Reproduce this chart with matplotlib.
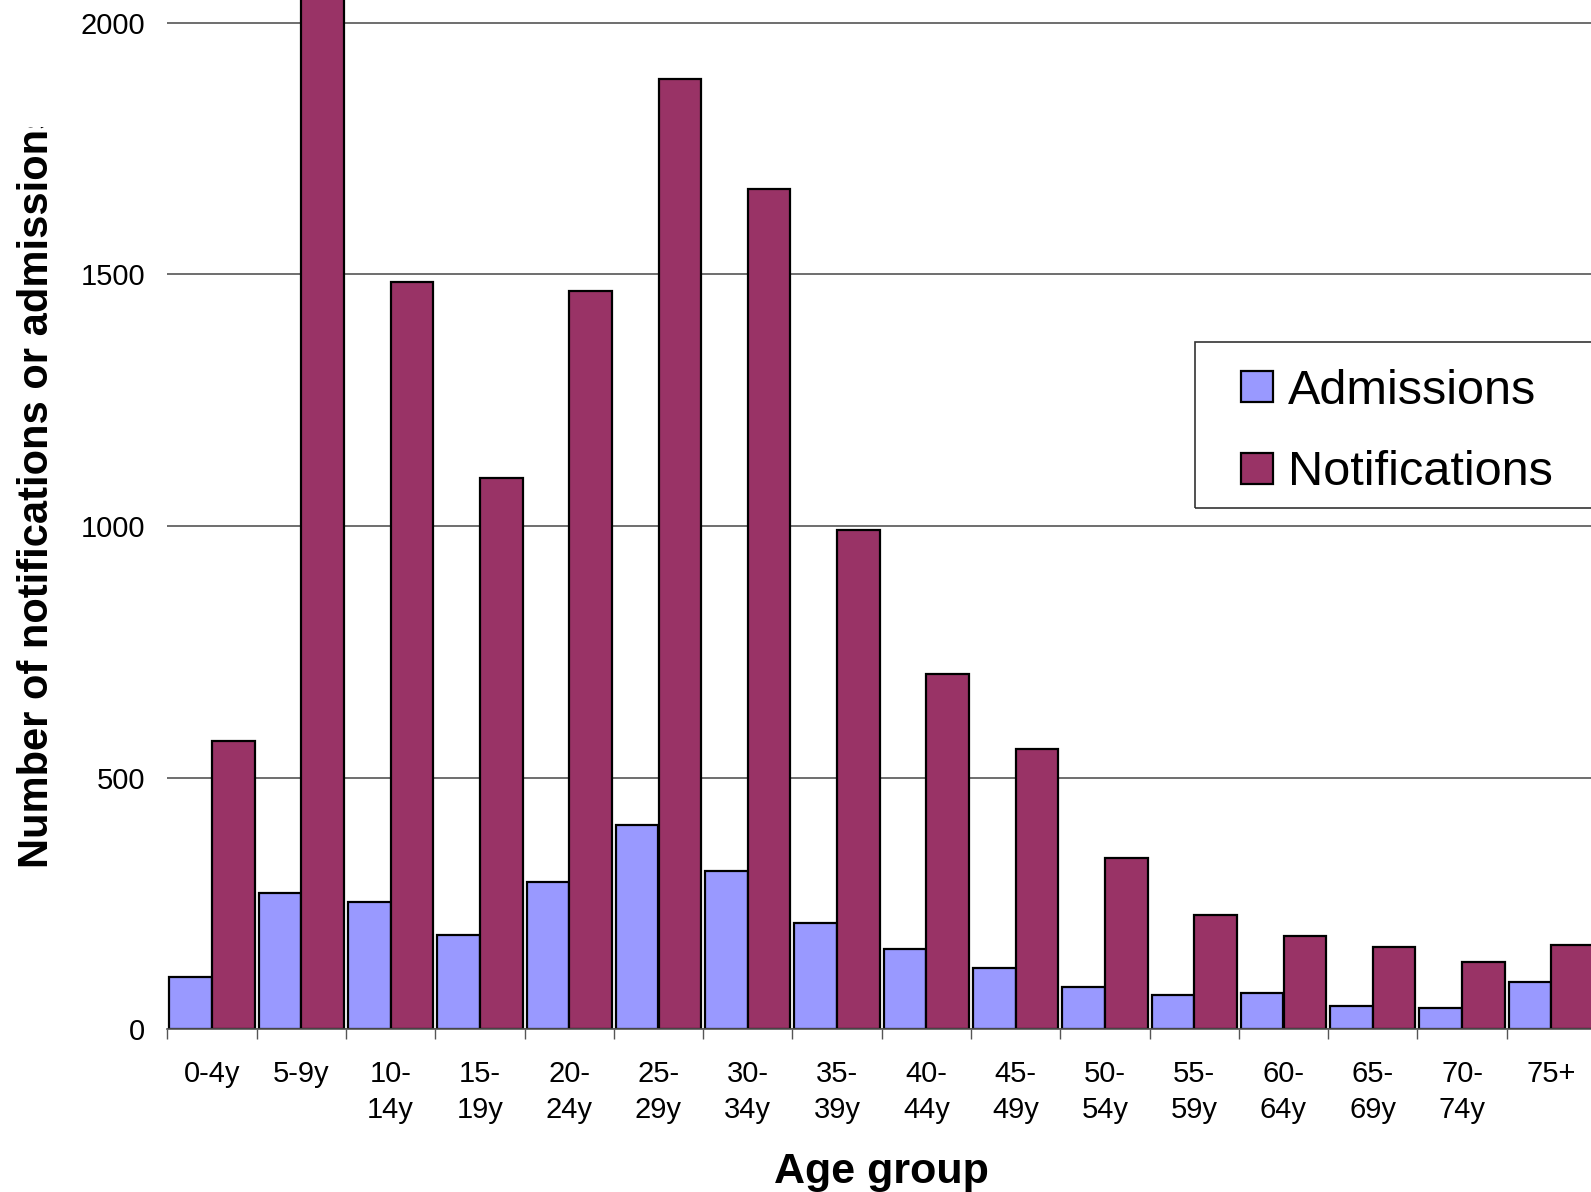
import matplotlib
matplotlib.use("Agg")
import matplotlib.pyplot as plt
from matplotlib.patches import Rectangle
import numpy as np

plt.rcParams['font.family'] = ['Liberation Sans', 'DejaVu Sans']

age_groups = ["0-4y", "5-9y", "10-\n14y", "15-\n19y", "20-\n24y", "25-\n29y",
              "30-\n34y", "35-\n39y", "40-\n44y", "45-\n49y", "50-\n54y",
              "55-\n59y", "60-\n64y", "65-\n69y", "70-\n74y", "75+"]
admissions = [103, 270, 252, 187, 292, 405, 315, 212, 159, 121, 85, 69, 73, 46, 42, 93]
notifications = [573, 2100, 1484, 1095, 1466, 1888, 1669, 992, 706, 556, 341, 228,
                 185, 163, 133, 167]
y_ticks = [0, 500, 1000, 1500, 2000]

W, H = 1591, 1192
fig = plt.figure(figsize=(W / 100, H / 100), dpi=100)

# plot area (pixel geometry), extends past the top and right edges
x_left, x_right = 167.4, 1596.0
y_zero = 1029.3
px_per_unit = 0.5033
y_max = 2150
top_px = y_zero - y_max * px_per_unit
ax = fig.add_axes([x_left / W, (H - y_zero) / H,
                   (x_right - x_left) / W, (y_zero - top_px) / H])

n = len(age_groups)
x = np.arange(n)
bw = 0.477
ax.bar(x - bw / 2 - 0.001, admissions, width=bw, color='#9999FF',
       edgecolor='black', linewidth=1.6, label='Admissions', zorder=3)
ax.bar(x + bw / 2 + 0.001, notifications, width=bw, color='#993366',
       edgecolor='black', linewidth=1.6, label='Notifications', zorder=3)

ax.set_xlim(-0.5, n - 0.5)
ax.set_ylim(0, y_max)

for s in ['top', 'right', 'left']:
    ax.spines[s].set_visible(False)
ax.spines['bottom'].set_color('#555555')
ax.spines['bottom'].set_linewidth(1.2)
ax.spines['bottom'].set_zorder(4)

ax.set_yticks(y_ticks)
ax.set_yticklabels([str(v) for v in y_ticks])
ax.tick_params(axis='y', length=0, pad=16, labelsize=21)
ax.yaxis.grid(True, color='#555555', linewidth=1.2, zorder=0)

ax.set_xticks(x)
ax.set_xticklabels(age_groups, linespacing=1.37)
ax.tick_params(axis='x', which='major', length=0, pad=22, labelsize=21)
ax.set_xticks(np.arange(-0.5, n, 1.0), minor=True)
ax.tick_params(axis='x', which='minor', length=7.5, width=1.0,
               color='#555555', direction='out')

fig.text(881 / W, 1 - 1172 / H, "Age group", ha='center', va='center',
         fontsize=31, fontweight='bold')

ylab = fig.text(37 / W, 1 - 868 / H, "Number of notifications or admissions",
                rotation=90, ha='center', va='bottom', fontsize=30,
                fontweight='bold')
clip = Rectangle((0, 0), 1, 1 - 127 / H, transform=fig.transFigure)
ylab.set_clip_path(clip)
ylab.set_clip_on(True)

# legend frame, running off the right edge
frame = Rectangle((1195 / W, 1 - 508 / H), 500 / W, (508 - 342) / H,
                  transform=fig.transFigure, fill=False,
                  edgecolor='#333333', linewidth=1.2)
fig.patches.append(frame)

leg = fig.legend(loc='upper left', bbox_to_anchor=(1241 / W, 1 - 369 / H),
                 fontsize=35, frameon=False,
                 handlelength=0.66, handleheight=0.6, handletextpad=0.3,
                 labelspacing=0.75, borderpad=0, borderaxespad=0)

fig.savefig("out.png", dpi=100)
